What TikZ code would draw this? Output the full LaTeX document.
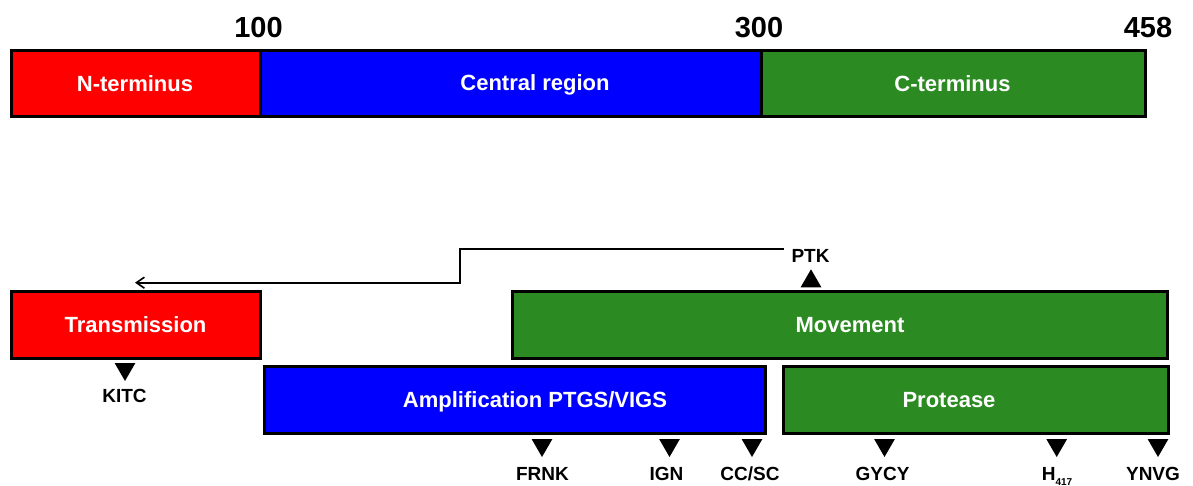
\documentclass[tikz,border=0pt]{standalone}
\usepackage{fontspec}
\setmainfont{Liberation Sans}
\usetikzlibrary{arrows.meta,shapes.geometric}
\definecolor{myred}{RGB}{255,0,0}
\definecolor{myblue}{RGB}{0,0,255}
\definecolor{mygreen}{RGB}{43,138,34}
\begin{document}
\begin{tikzpicture}[x=1pt,y=-1pt,
  box/.style={draw=black, line width=3pt, inner sep=0pt, outer sep=0pt},
  wlab/.style={text=white, font=\fontsize{22}{26}\selectfont\bfseries, inner sep=0pt, text height=15.75pt, text depth=0pt},
  numlab/.style={text=black, font=\fontsize{29}{34}\selectfont\bfseries, inner sep=0pt, text height=20.8pt, text depth=0pt},
  mlab/.style={text=black, font=\fontsize{19}{22}\selectfont\bfseries, inner sep=2pt, text height=13.6pt, text depth=0pt},
  tridown/.style={regular polygon, regular polygon sides=3, shape border rotate=180, fill=black, inner sep=0pt, outer sep=0pt, minimum size=24pt},
  triup/.style={regular polygon, regular polygon sides=3, fill=black, inner sep=0pt, outer sep=0pt, minimum size=24pt},
  conn/.style={draw=black, line width=1.6pt, -{Straight Barb[length=8pt,width=11pt]}}
]
\useasboundingbox (0,0) rectangle (1193,486);

% top bar
\node[box, fill=myred, minimum width=248.3pt, minimum height=66pt] (nterm) at (135.85,83.8) {};
\node[box, fill=myblue, minimum width=501.3pt, minimum height=66pt] (central) at (510.65,83.8) {};
\node[box, fill=mygreen, minimum width=383.7pt, minimum height=66pt] (cterm) at (953.15,83.8) {};
\node[wlab] (ntermlab) at (135,83.8) {N-terminus};
\node[wlab] (centrallab) at (535,82.5) {Central region};
\node[wlab] (ctermlab) at (952.5,83.5) {C-terminus};
\node[numlab] (n100) at (258.5,27) {100};
\node[numlab] (n300) at (759,27) {300};
\node[numlab] (n458) at (1148,27) {458};

% function boxes
\node[box, fill=myred, minimum width=248.7pt, minimum height=67pt] (trans) at (135.85,325) {};
\node[box, fill=mygreen, minimum width=655pt, minimum height=67pt] (move) at (840,325) {};
\node[box, fill=myblue, minimum width=500.5pt, minimum height=67pt] (ampl) at (514.75,400) {};
\node[box, fill=mygreen, minimum width=385.5pt, minimum height=67pt] (prot) at (975.75,400) {};
\node[wlab] (translab) at (135.5,325) {Transmission};
\node[wlab] (movelab) at (850,324.5) {Movement};
\node[wlab] (ampllab) at (535,400) {Amplification PTGS/VIGS};
\node[wlab] (protlab) at (949,399.5) {Protease};

% motifs
\node[tridown] (tkitc) at (125,369) {};
\node[mlab] (kitc) at (124.5,396) {KITC};
\node[triup] (tptk) at (811,281.3) {};
\node[mlab] (ptk) at (810.5,256) {PTK};

\node[tridown] (tfrnk) at (542,445) {};
\node[tridown] (tign) at (669.5,445) {};
\node[tridown] (tccsc) at (752,445) {};
\node[tridown] (tgycy) at (884.5,445) {};
\node[tridown] (th) at (1056.7,445) {};
\node[tridown] (tynvg) at (1158,445) {};
\node[mlab] (frnk) at (542.5,474) {FRNK};
\node[mlab] (ign) at (666.5,474) {IGN};
\node[mlab] (ccsc) at (750,474) {CC/SC};
\node[mlab] (gycy) at (882.5,474) {GYCY};
\node[mlab] (h417) at (1057,474) {H\raisebox{-0.25em}{\fontsize{10}{10}\selectfont 417}};
\node[mlab] (ynvg) at (1153,474) {YNVG};

% connector from PTK to transmission
\coordinate (bend) at (460,282.7);
\coordinate (tip) at (135,282.7);
\draw[conn] ([xshift=-5.5pt,yshift=6.7pt]ptk.west) -| (bend) -- (tip);
\end{tikzpicture}
\end{document}
